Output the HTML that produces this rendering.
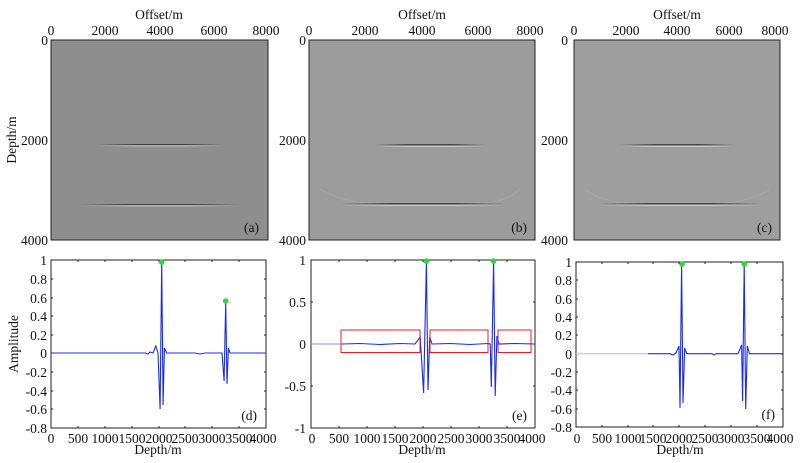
<!DOCTYPE html>
<html><head><meta charset="utf-8"><style>
html,body{margin:0;padding:0;background:#fff;}
svg{display:block;}
text{font-family:"Liberation Serif",serif;font-size:13.5px;fill:#111;}
</style></head><body>
<svg width="804" height="463" viewBox="0 0 804 463" xmlns="http://www.w3.org/2000/svg">
<defs>
<linearGradient id="fadeD" x1="0" x2="1"><stop offset="0" stop-color="#000" stop-opacity="0"/><stop offset="0.3" stop-color="#000" stop-opacity="0.55"/><stop offset="0.7" stop-color="#000" stop-opacity="0.55"/><stop offset="1" stop-color="#000" stop-opacity="0"/></linearGradient>
<linearGradient id="fadeL" x1="0" x2="1"><stop offset="0" stop-color="#fff" stop-opacity="0"/><stop offset="0.3" stop-color="#fff" stop-opacity="0.6"/><stop offset="0.7" stop-color="#fff" stop-opacity="0.6"/><stop offset="1" stop-color="#fff" stop-opacity="0"/></linearGradient>
</defs>

<!-- Panel a -->
<rect x="51" y="40" width="217" height="200" fill="#8e8e8e" stroke="#222" stroke-width="1"/>
<rect x="95" y="144" width="130" height="1" fill="url(#fadeD)"/>
<rect x="95" y="145.5" width="130" height="0.8" fill="url(#fadeL)"/>
<rect x="80" y="204" width="160" height="1" fill="url(#fadeD)"/>
<rect x="80" y="205.5" width="160" height="0.8" fill="url(#fadeL)"/>
<text x="259" y="232" text-anchor="end">(a)</text>
<text x="159" y="19" text-anchor="middle">Offset/m</text>
<g text-anchor="middle"><text x="51" y="35">0</text><text x="105" y="35">2000</text><text x="160" y="35">4000</text><text x="214" y="35">6000</text><text x="266" y="35">8000</text></g>
<g text-anchor="end"><text x="48" y="45">0</text><text x="48" y="145">2000</text><text x="48" y="245">4000</text></g>
<text transform="translate(16,140) rotate(-90)" text-anchor="middle">Depth/m</text>

<!-- Panel b -->
<rect x="309" y="40" width="226" height="200" fill="#9c9c9c" stroke="#222" stroke-width="1"/>
<rect x="375" y="144" width="110" height="1.3" fill="url(#fadeD)"/>
<rect x="375" y="146" width="110" height="0.8" fill="url(#fadeL)"/>
<path d="M320 189 Q345 203 370 203 L480 203 Q505 203 520 189" fill="none" stroke="#aaaaaa" stroke-width="0.7"/>
<rect x="340" y="203" width="165" height="1.3" fill="url(#fadeD)"/>
<rect x="340" y="205" width="165" height="0.8" fill="url(#fadeL)"/>
<text x="527" y="232" text-anchor="end">(b)</text>
<text x="422" y="19" text-anchor="middle">Offset/m</text>
<g text-anchor="middle"><text x="309" y="35">0</text><text x="365" y="35">2000</text><text x="422" y="35">4000</text><text x="478" y="35">6000</text><text x="530" y="35">8000</text></g>
<g text-anchor="end"><text x="306" y="45">0</text><text x="306" y="145">2000</text><text x="306" y="245">4000</text></g>

<!-- Panel c -->
<rect x="574" y="40" width="206" height="200" fill="#9e9e9e" stroke="#222" stroke-width="1"/>
<rect x="620" y="144" width="115" height="1.2" fill="url(#fadeD)"/>
<rect x="620" y="146" width="115" height="0.8" fill="url(#fadeL)"/>
<path d="M585 190 Q605 203 630 203 L720 203 Q745 203 770 190" fill="none" stroke="#acacac" stroke-width="0.7"/>
<rect x="600" y="203" width="160" height="1.3" fill="url(#fadeD)"/>
<rect x="600" y="205" width="160" height="0.8" fill="url(#fadeL)"/>
<text x="772" y="232" text-anchor="end">(c)</text>
<text x="677" y="19" text-anchor="middle">Offset/m</text>
<g text-anchor="middle"><text x="574" y="35">0</text><text x="626" y="35">2000</text><text x="677" y="35">4000</text><text x="729" y="35">6000</text><text x="775" y="35">8000</text></g>
<g text-anchor="end"><text x="568" y="45">0</text><text x="568" y="145">2000</text><text x="568" y="245">4000</text></g>

<!-- Panel d -->
<rect x="51" y="260" width="215" height="168" fill="none" stroke="#222" stroke-width="1"/>
<g stroke="#222" stroke-width="1">
<path d="M51 279h2M51 298h2M51 316h2M51 335h2M51 353h2M51 372h2M51 391h2M51 409h2M264 279h2M264 298h2M264 316h2M264 335h2M264 353h2M264 372h2M264 391h2M264 409h2"/>
<path d="M78 428v-2M105 428v-2M132 428v-2M159 428v-2M185 428v-2M212 428v-2M239 428v-2M78 260v2M105 260v2M132 260v2M159 260v2M185 260v2M212 260v2M239 260v2"/>
</g>
<path d="M51 353 L145 353 L148 354 L150 352 L153 353 L155.8 346 L158 353 L160.1 409 L161.7 262 L163.1 405 L164.4 348 L166.6 353 L195 353 L200 354 L205 353 L222 353 L224.1 381 L225.7 301 L227 384 L228.4 348 L230 353 L266 353" fill="none" stroke="#1a2cf0" stroke-width="1.1"/>
<circle cx="161.7" cy="262" r="2.8" fill="#22dd33"/><circle cx="225.7" cy="301" r="2.8" fill="#22dd33"/>
<text x="257" y="420" text-anchor="end">(d)</text>
<g text-anchor="end"><text x="47" y="265">1</text><text x="47" y="284">0.8</text><text x="47" y="303">0.6</text><text x="47" y="321">0.4</text><text x="47" y="340">0.2</text><text x="47" y="358">0</text><text x="47" y="377">-0.2</text><text x="47" y="396">-0.4</text><text x="47" y="414">-0.6</text><text x="47" y="433">-0.8</text></g>
<g text-anchor="middle"><text x="51" y="443">0</text><text x="78" y="443">500</text><text x="105" y="443">1000</text><text x="132" y="443">1500</text><text x="159" y="443">2000</text><text x="185" y="443">2500</text><text x="212" y="443">3000</text><text x="239" y="443">3500</text><text x="263" y="443">4000</text></g>
<text x="158" y="454" text-anchor="middle">Depth/m</text>
<text transform="translate(18,344) rotate(-90)" text-anchor="middle">Amplitude</text>

<!-- Panel e -->
<rect x="311" y="260" width="224" height="168" fill="none" stroke="#222" stroke-width="1"/>
<g stroke="#222" stroke-width="1">
<path d="M311 302h2M311 344h2M311 386h2M533 302h2M533 344h2M533 386h2"/>
<path d="M339 428v-2M367 428v-2M395 428v-2M423 428v-2M451 428v-2M479 428v-2M507 428v-2M339 260v2M367 260v2M395 260v2M423 260v2M451 260v2M479 260v2M507 260v2"/>
</g>
<path d="M311 344 L342 344" stroke="#8a94f5" stroke-width="1"/>
<path d="M342 344 L360 343.5 L380 344.5 L400 343.5 L415 344 L420.2 337 L423.6 393 L426.4 262 L428 390 L429.7 337 L432 344 L450 343.5 L470 344.5 L488 343.5 L490.2 344 L491.3 387 L493.6 262 L495.2 396 L496.9 336 L499 344 L515 343.5 L535 344" fill="none" stroke="#1a2cf0" stroke-width="1.1"/>
<g fill="none" stroke="#e02020" stroke-width="1"><rect x="341" y="330" width="79" height="22.5"/><rect x="430" y="330" width="58" height="22.5"/><rect x="498" y="330" width="33" height="22.5"/></g>
<circle cx="426.4" cy="261" r="2.8" fill="#22dd33"/><circle cx="493.6" cy="261" r="2.8" fill="#22dd33"/>
<text x="527" y="420" text-anchor="end">(e)</text>
<g text-anchor="end"><text x="306" y="265">1</text><text x="306" y="307">0.5</text><text x="306" y="349">0</text><text x="306" y="391">-0.5</text><text x="306" y="433">-1</text></g>
<g text-anchor="middle"><text x="312" y="443">0</text><text x="339" y="443">500</text><text x="367" y="443">1000</text><text x="395" y="443">1500</text><text x="423" y="443">2000</text><text x="451" y="443">2500</text><text x="479" y="443">3000</text><text x="507" y="443">3500</text><text x="532" y="443">4000</text></g>
<text x="422" y="454" text-anchor="middle">Depth/m</text>

<!-- Panel f -->
<rect x="576" y="262" width="207" height="165" fill="none" stroke="#222" stroke-width="1"/>
<g stroke="#222" stroke-width="1">
<path d="M576 280h2M576 299h2M576 317h2M576 335h2M576 354h2M576 372h2M576 390h2M576 409h2M781 280h2M781 299h2M781 317h2M781 335h2M781 354h2M781 372h2M781 390h2M781 409h2"/>
<path d="M602 427v-2M628 427v-2M653 427v-2M679 427v-2M705 427v-2M731 427v-2M757 427v-2M602 262v2M628 262v2M653 262v2M679 262v2M705 262v2M731 262v2M757 262v2"/>
</g>
<path d="M576 353.7 L648 353.7" stroke="#c8ccf8" stroke-width="1.4"/>
<path d="M648 353.7 L670 353.7 L673 355 L676 353 L679 346 L680 408 L681.6 263 L683 403 L684.7 348 L686.7 353.7 L712 353.7 L714 355 L716 353.7 L738 353.7 L741.6 345 L742.6 401 L744.2 263 L745.7 409 L747.3 346 L749.4 353.7 L783 353.7" fill="none" stroke="#1a2cf0" stroke-width="1.1"/>
<circle cx="682" cy="264" r="2.8" fill="#22dd33"/><circle cx="744.2" cy="264" r="2.8" fill="#22dd33"/>
<text x="775" y="419" text-anchor="end">(f)</text>
<g text-anchor="end"><text x="572" y="267">1</text><text x="572" y="285">0.8</text><text x="572" y="304">0.6</text><text x="572" y="322">0.4</text><text x="572" y="340">0.2</text><text x="572" y="359">0</text><text x="572" y="377">-0.2</text><text x="572" y="395">-0.4</text><text x="572" y="414">-0.6</text><text x="572" y="432">-0.8</text></g>
<g text-anchor="middle"><text x="577" y="443">0</text><text x="602" y="443">500</text><text x="628" y="443">1000</text><text x="653" y="443">1500</text><text x="679" y="443">2000</text><text x="705" y="443">2500</text><text x="731" y="443">3000</text><text x="757" y="443">3500</text><text x="780" y="443">4000</text></g>
<text x="680" y="454" text-anchor="middle">Depth/m</text>
</svg>
</body></html>
